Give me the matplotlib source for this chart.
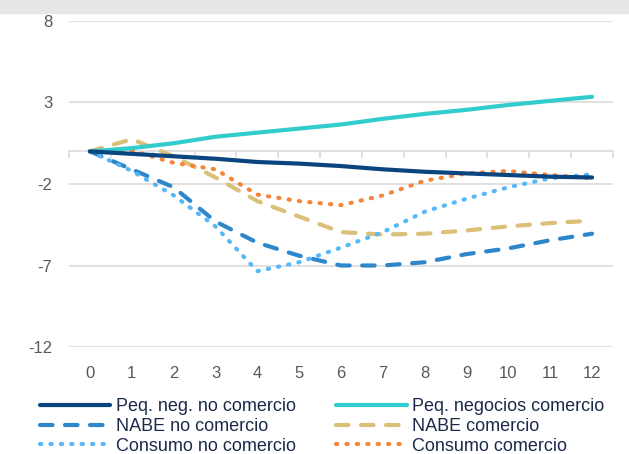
import matplotlib
matplotlib.use("Agg")
import matplotlib.pyplot as plt
from matplotlib.patches import Rectangle

plt.rcParams["font.family"] = ["Liberation Sans", "DejaVu Sans"]
plt.rcParams["axes.unicode_minus"] = False

# horizonte (meses) y respuestas estimadas
x = [0, 1, 2, 3, 4, 5, 6, 7, 8, 9, 10, 11, 12]
peq_no_com = [0, -0.15, -0.3, -0.45, -0.65, -0.75, -0.9, -1.1, -1.25, -1.35, -1.45, -1.55, -1.6]
peq_com = [0, 0.2, 0.5, 0.9, 1.15, 1.4, 1.65, 2.0, 2.3, 2.55, 2.85, 3.1, 3.35]
nabe_no_com = [0, -1.1, -2.2, -4.3, -5.6, -6.4, -7.0, -7.0, -6.8, -6.3, -5.95, -5.45, -5.05]
nabe_com = [0, 0.75, -0.3, -1.6, -3.05, -4.0, -4.95, -5.1, -5.05, -4.85, -4.6, -4.4, -4.25]
cons_no_com = [0, -1.2, -2.7, -4.6, -7.35, -6.8, -5.9, -4.95, -3.7, -2.9, -2.2, -1.65, -1.4]
cons_com = [0, 0.05, -0.7, -1.1, -2.65, -3.05, -3.3, -2.7, -1.8, -1.35, -1.2, -1.45, -1.65]
yticks = [-12, -7, -2, 3, 8]

fig = plt.figure(figsize=(6.29, 4.54), dpi=100)
fig.patches.append(Rectangle((0, 1 - 13 / 454), 1, 13 / 454, transform=fig.transFigure,
                             color="#e7e7e7", zorder=0))
ax = fig.add_axes([69 / 629, 1 - 347 / 454, (613 - 69) / 629, (347 - 21) / 454])

lw = 3.0
dash = (3.0, 3.0)
dot = (0.3, 2.2)
l1, = ax.plot(x, peq_no_com, color="#0b457f", lw=lw, solid_capstyle="round", label="Peq. neg. no comercio", zorder=5)
l2, = ax.plot(x, peq_com, color="#33cccc", lw=lw, solid_capstyle="round", label="Peq. negocios comercio", zorder=4)
l3, = ax.plot(x, nabe_no_com, color="#2e87cb", lw=lw, dashes=dash, dash_capstyle="round", label="NABE no comercio", zorder=3)
l4, = ax.plot(x, nabe_com, color="#dbc07a", lw=lw, dashes=dash, dash_capstyle="round", label="NABE comercio", zorder=3)
l5, = ax.plot(x, cons_no_com, color="#55b8f7", lw=lw, dashes=dot, dash_capstyle="round", label="Consumo no comercio", zorder=3)
l6, = ax.plot(x, cons_com, color="#f5853a", lw=lw, dashes=dot, dash_capstyle="round", label="Consumo comercio", zorder=3)

ax.set_xlim(-0.5, 12.5)
ax.set_ylim(-12, 8)
ax.set_yticks(yticks)
ax.grid(axis="y", color="#d9d9d9", lw=1.1)
ax.set_axisbelow(True)
for s in ["left", "right", "top"]:
    ax.spines[s].set_visible(False)
ax.spines["bottom"].set_position(("data", 0))
ax.spines["bottom"].set_color("#d9d9d9")
ax.spines["bottom"].set_linewidth(1.1)
ax.set_xticks([i + 0.5 for i in range(-1, 13)])
ax.tick_params(axis="x", direction="out", length=5, color="#d9d9d9", width=1.1, labelbottom=False)
ax.tick_params(axis="y", length=0, pad=12, labelsize=12, labelcolor="#595959")

sec = ax.secondary_xaxis("bottom")
sec.set_xticks(x)
sec.spines["bottom"].set_visible(False)
sec.tick_params(length=0, pad=14, labelsize=12, labelcolor="#595959")

# orden por columnas para que las filas queden como en el original
handles = [l1, l3, l5, l2, l4, l6]
ax.legend(handles=handles, ncol=2, loc="upper left", bbox_to_anchor=(40 / 629, 1 - 398 / 454),
          bbox_transform=fig.transFigure, frameon=False, fontsize=13,
          handlelength=3.9, handletextpad=0.33, columnspacing=2.2,
          labelspacing=0.16, borderpad=0, borderaxespad=0, labelcolor="#1b2a4a")

fig.savefig("out.png", dpi=100)
